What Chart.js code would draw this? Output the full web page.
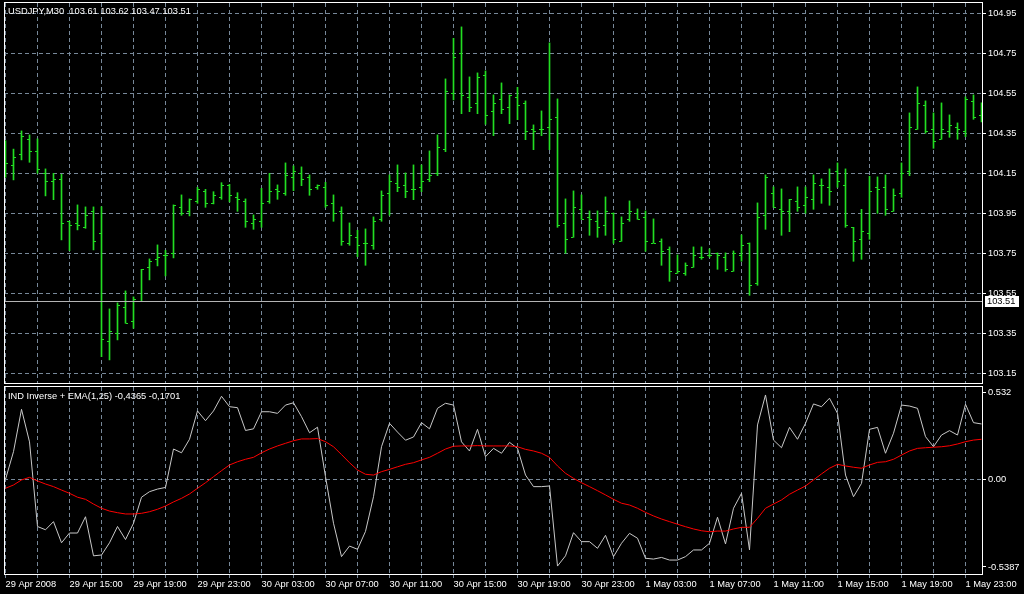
<!DOCTYPE html>
<html>
<head>
<meta charset="utf-8">
<title>USDJPY,M30</title>
<script src="https://cdn.jsdelivr.net/npm/chart.js@4/dist/chart.umd.min.js"></script>
<style>
    html, body { margin: 0; padding: 0; background: #000; }
    #wrap { position: relative; width: 1024px; height: 594px; background: #000; overflow: hidden; }
    canvas { position: absolute; left: 0; }
    #priceCanvas { top: 0; }
    #indCanvas { top: 384px; }
</style>
</head>
<body>
<div id="wrap">
    <canvas id="priceCanvas" width="1024" height="386"></canvas>
    <canvas id="indCanvas" width="1024" height="210"></canvas>
</div>
<script>
/* ================= DATA ================= */
// USDJPY M30 bars, first bar = 29 Apr 2008 11:00
const barOpen = [
    104.25, 104.19, 104.242, 104.32, 104.26, 104.15, 104.108, 104.12, 103.91, 103.9,
    103.88, 103.96, 103.85, 103.31, 103.35, 103.48, 103.41, 103.51, 103.68, 103.72,
    103.74, 103.75, 103.98, 103.96, 104.01, 104.058, 104.0, 104.03, 104.09, 104.03,
    104.01, 103.9, 103.91, 104.01, 104.07, 104.05, 104.13, 104.15, 104.13, 104.08,
    104.08, 104.0, 103.96, 103.8, 103.83, 103.8, 103.79, 103.92, 104.05, 104.1,
    104.09, 104.07, 104.08, 104.12, 104.15, 104.27, 104.55, 104.75, 104.53, 104.5,
    104.64, 104.46, 104.52, 104.48, 104.53, 104.5, 104.37, 104.37, 104.38, 104.43,
    103.9, 103.83, 103.97, 103.93, 103.91, 103.89, 103.95, 103.81, 103.92, 103.95,
    103.93, 103.8, 103.81, 103.77, 103.65, 103.65, 103.68, 103.73, 103.74, 103.75,
    103.73, 103.66, 103.74, 103.8, 103.6, 103.94, 104.05, 103.97, 103.96, 104.01,
    103.99, 104.02, 104.09, 104.08, 104.16, 104.09, 103.88, 103.82, 103.85, 104.08,
    104.08, 103.96, 104.05, 104.16, 104.37, 104.49, 104.37, 104.32, 104.36, 104.38,
    104.36, 104.51, 104.44
];
const barHigh = [
    104.313, 104.271, 104.362, 104.342, 104.322, 104.172, 104.15, 104.145, 103.91, 103.992,
    103.982, 103.982, 103.983, 103.472, 103.502, 103.562, 103.532, 103.67, 103.722, 103.792,
    103.765, 103.992, 104.042, 104.022, 104.08, 104.07, 104.058, 104.103, 104.095, 104.053,
    104.022, 103.942, 104.075, 104.15, 104.092, 104.202, 104.187, 104.182, 104.142, 104.092,
    104.105, 104.042, 103.982, 103.902, 103.865, 103.872, 103.932, 104.062, 104.142, 104.192,
    104.152, 104.192, 104.192, 104.262, 104.342, 104.622, 104.825, 104.882, 104.632, 104.652,
    104.662, 104.542, 104.602, 104.542, 104.58, 104.512, 104.392, 104.462, 104.802, 104.522,
    104.022, 104.062, 104.042, 103.962, 103.962, 104.032, 103.952, 103.932, 104.012, 103.972,
    103.962, 103.922, 103.822, 103.782, 103.742, 103.702, 103.782, 103.782, 103.772, 103.752,
    103.752, 103.762, 103.842, 103.802, 104.002, 104.142, 104.082, 104.072, 104.02, 104.082,
    104.082, 104.142, 104.122, 104.172, 104.202, 104.172, 103.88, 103.97, 104.135, 104.132,
    104.142, 104.072, 104.202, 104.452, 104.582, 104.512, 104.452, 104.502, 104.442, 104.402,
    104.532, 104.542, 104.502
];
const barLow = [
    104.13, 104.117, 104.217, 104.205, 104.15, 104.037, 104.018, 103.817, 103.763, 103.867,
    103.875, 103.767, 103.233, 103.217, 103.317, 103.4, 103.375, 103.51, 103.617, 103.687,
    103.637, 103.727, 103.94, 103.937, 104.0, 103.98, 103.997, 104.02, 104.007, 103.96,
    103.88, 103.87, 103.88, 104.0, 104.02, 104.04, 104.063, 104.088, 104.04, 104.07,
    103.98, 103.91, 103.79, 103.79, 103.733, 103.69, 103.77, 103.91, 103.94, 104.058,
    104.028, 104.018, 104.058, 104.108, 104.138, 104.258, 104.517, 104.448, 104.458, 104.448,
    104.395, 104.338, 104.448, 104.398, 104.418, 104.318, 104.268, 104.338, 104.268, 103.88,
    103.75, 103.83, 103.92, 103.84, 103.83, 103.84, 103.8, 103.81, 103.91, 103.92,
    103.76, 103.8, 103.69, 103.61, 103.65, 103.64, 103.68, 103.72, 103.73, 103.67,
    103.66, 103.66, 103.71, 103.54, 103.59, 103.87, 103.98, 103.84, 103.858, 103.96,
    103.95, 103.97, 104.0, 103.99, 104.08, 103.88, 103.71, 103.72, 103.82, 103.95,
    103.94, 103.96, 104.03, 104.138, 104.37, 104.35, 104.275, 104.32, 104.33, 104.32,
    104.333, 104.42, 104.407
];
const barClose = [
    104.2, 104.227, 104.333, 104.258, 104.167, 104.108, 104.12, 103.9, 103.89, 103.89,
    103.94, 103.81, 103.32, 103.36, 103.49, 103.4, 103.52, 103.67, 103.71, 103.73,
    103.74, 103.99, 103.95, 104.02, 104.067, 104.0, 104.04, 104.09, 104.04, 104.02,
    103.91, 103.917, 104.0, 104.06, 104.06, 104.14, 104.16, 104.12, 104.07, 104.09,
    103.99, 103.95, 103.81, 103.84, 103.79, 103.8, 103.91, 104.04, 104.11, 104.08,
    104.06, 104.07, 104.11, 104.14, 104.28, 104.56, 104.73, 104.54, 104.48, 104.63,
    104.44, 104.5, 104.47, 104.54, 104.49, 104.36, 104.36, 104.37, 104.42, 103.89,
    103.82, 103.98, 103.92, 103.92, 103.88, 103.96, 103.82, 103.9, 103.96, 103.92,
    103.81, 103.8, 103.76, 103.66, 103.66, 103.69, 103.74, 103.73, 103.74, 103.74,
    103.67, 103.75, 103.79, 103.59, 103.93, 104.13, 103.98, 103.96, 104.02, 103.98,
    104.03, 104.1, 104.09, 104.06, 104.11, 103.89, 103.81, 103.86, 104.06, 104.07,
    103.97, 104.04, 104.15, 104.38, 104.5, 104.36, 104.31, 104.37, 104.39, 104.37,
    104.52, 104.43, 104.45
];

// indicator window: IND Inverse (white) and its EMA (red)
const indInverse = [
    0.0, 0.17, 0.43, 0.23, -0.29, -0.31, -0.26, -0.39, -0.33, -0.33,
    -0.23, -0.47, -0.465, -0.39, -0.29, -0.37, -0.27, -0.11, -0.076, -0.06,
    -0.05, 0.186, 0.163, 0.246, 0.42, 0.36, 0.42, 0.51, 0.446, 0.44,
    0.30, 0.31, 0.415, 0.415, 0.405, 0.456, 0.47, 0.385, 0.286, 0.32,
    0.016, -0.27, -0.475, -0.41, -0.43, -0.32, -0.107, 0.20, 0.344, 0.29,
    0.24, 0.26, 0.348, 0.31, 0.436, 0.467, 0.456, 0.23, 0.174, 0.307,
    0.139, 0.19, 0.16, 0.227, 0.19, 0.026, -0.045, -0.045, -0.041, -0.533,
    -0.47, -0.328, -0.383, -0.383, -0.424, -0.344, -0.475, -0.393, -0.332, -0.362,
    -0.485, -0.49, -0.48, -0.496, -0.496, -0.475, -0.434, -0.434, -0.393, -0.233,
    -0.397, -0.178, -0.086, -0.434, 0.334, 0.518, 0.241, 0.194, 0.319, 0.246,
    0.344, 0.463, 0.446, 0.498, 0.405, 0.026, -0.107, -0.025, 0.307, 0.319,
    0.16, 0.283, 0.456, 0.45, 0.436, 0.262, 0.20, 0.272, 0.299, 0.272,
    0.461, 0.348, 0.34
];
const indEma = [
    -0.055, -0.035, -0.004, 0.012, -0.01, -0.029, -0.045, -0.066, -0.086, -0.11,
    -0.123, -0.152, -0.178, -0.195, -0.205, -0.213, -0.213, -0.209, -0.199, -0.184,
    -0.164, -0.139, -0.117, -0.09, -0.055, -0.021, 0.016, 0.053, 0.088, 0.108,
    0.123, 0.135, 0.163, 0.186, 0.205, 0.221, 0.237, 0.248, 0.248, 0.25,
    0.231, 0.20, 0.152, 0.102, 0.057, 0.031, 0.026, 0.047, 0.061, 0.077,
    0.092, 0.102, 0.119, 0.135, 0.16, 0.186, 0.203, 0.205, 0.205, 0.207,
    0.205, 0.205, 0.205, 0.205, 0.20, 0.184, 0.174, 0.16, 0.135, 0.082,
    0.037, 0.006, -0.021, -0.045, -0.07, -0.096, -0.123, -0.147, -0.158, -0.178,
    -0.203, -0.225, -0.244, -0.26, -0.276, -0.291, -0.305, -0.316, -0.322, -0.318,
    -0.318, -0.305, -0.295, -0.295, -0.24, -0.178, -0.152, -0.127, -0.092, -0.066,
    -0.041, -0.004, 0.033, 0.068, 0.092, 0.082, 0.074, 0.068, 0.088, 0.104,
    0.108, 0.123, 0.149, 0.174, 0.19, 0.194, 0.197, 0.20, 0.206, 0.217,
    0.231, 0.241, 0.246
];

// axes
const priceTicks = [103.15, 103.35, 103.55, 103.75, 103.95, 104.15, 104.35, 104.55, 104.75, 104.95];
const indTicks = [-0.5387, 0, 0.532];
const indTickLabels = ["-0.5387", "0.00", "0.532"];
const gridBars = [0, 4, 8, 12, 16, 20, 24, 28, 32, 36, 40, 44, 48, 52, 56, 60,
    64, 68, 72, 76, 80, 84, 88, 92, 96, 100, 104, 108, 112, 116, 120];
const timeLabels = [
    "29 Apr 2008", "29 Apr 15:00", "29 Apr 19:00", "29 Apr 23:00",
    "30 Apr 03:00", "30 Apr 07:00", "30 Apr 11:00", "30 Apr 15:00",
    "30 Apr 19:00", "30 Apr 23:00", "1 May 03:00", "1 May 07:00",
    "1 May 11:00", "1 May 15:00", "1 May 19:00", "1 May 23:00"
];
const lastPrice = 103.51;
const priceHeader = "USDJPY,M30  103.61 103.62 103.47 103.51";
const indHeader = "IND Inverse + EMA(1,25) -0,4365 -0,1701";

/* ================= STYLE ================= */
const BAR_COLOR = "#22dd22";
const GRID = "#778899";
const GRID_DASH = [4, 3];
const FONT = { family: "'Liberation Sans', Arial, sans-serif", size: 9.3 };
const FONT_CSS = "9.3px 'Liberation Sans', Arial, sans-serif";
const X_MIN = -0.1875, X_MAX = 122.0625;
const PRICE_MIN = 103.1015, PRICE_MAX = 105.0015;
const IND_MIN = -0.5817, IND_MAX = 0.567;

// keep the plot area where it is: no extra room for half labels
function fixWidth(s) {
    s.width = 42;
    s.paddingTop = 0;
    s.paddingBottom = 0;
}

/* ================= PLUGINS ================= */
const ohlcTicks = {
    id: "ohlcTicks",
    afterDatasetsDraw(chart) {
        const { ctx, chartArea: a, scales: { x, y } } = chart;
        ctx.save();
        ctx.beginPath();
        ctx.rect(a.left, a.top, a.right - a.left, a.bottom - a.top);
        ctx.clip();
        ctx.fillStyle = BAR_COLOR;
        barOpen.forEach((o, i) => {
            const px = Math.floor(x.getPixelForValue(i));
            ctx.fillRect(px - 2, Math.floor(y.getPixelForValue(o)), 2, 1);
            ctx.fillRect(px + 1, Math.floor(y.getPixelForValue(barClose[i])), 2, 1);
        });
        ctx.restore();
    }
};

function drawFrame(ctx, a) {
    ctx.strokeStyle = "#fff";
    ctx.lineWidth = 1;
    ctx.strokeRect(a.left + 0.5, a.top - 0.5, a.right - a.left, a.bottom - a.top + 1);
}

const priceFrame = {
    id: "priceFrame",
    afterDraw(chart) {
        const { ctx, chartArea: a, scales: { y } } = chart;
        ctx.save();
        // current price line
        const py = Math.floor(y.getPixelForValue(lastPrice)) + 0.5;
        ctx.strokeStyle = "#b4b4b4";
        ctx.lineWidth = 1;
        ctx.beginPath();
        ctx.moveTo(a.left, py);
        ctx.lineTo(a.right, py);
        ctx.stroke();
        drawFrame(ctx, a);
        // price box on the axis
        ctx.fillStyle = "#fff";
        ctx.fillRect(a.right + 3, py - 5.5, 34, 11);
        ctx.font = FONT_CSS;
        ctx.textBaseline = "middle";
        ctx.fillStyle = "#000";
        ctx.fillText(lastPrice.toFixed(2), a.right + 5, py);
        ctx.fillStyle = "#fff";
        ctx.fillText(priceHeader, a.left + 4, a.top + 8);
        ctx.restore();
    }
};

const indFrame = {
    id: "indFrame",
    afterDraw(chart) {
        const { ctx, chartArea: a } = chart;
        ctx.save();
        drawFrame(ctx, a);
        ctx.font = FONT_CSS;
        ctx.textBaseline = "middle";
        ctx.fillStyle = "#fff";
        ctx.fillText(indHeader, a.left + 4, a.top + 9);
        ctx.restore();
    }
};

/* ================= CHARTS ================= */
const baseOptions = {
    responsive: false,
    animation: false,
    devicePixelRatio: 1,
    plugins: { legend: { display: false }, tooltip: { enabled: false } }
};

new Chart(document.getElementById("priceCanvas"), {
    type: "bar",
    data: {
        datasets: [{
            label: "USDJPY,M30",
            data: barHigh.map((h, i) => ({ x: i, y: [barLow[i], h] })),
            backgroundColor: BAR_COLOR,
            borderWidth: 0,
            barThickness: 1,
            grouped: false
        }]
    },
    options: {
        ...baseOptions,
        layout: { padding: { top: 3, bottom: 3, left: 4, right: 0 } },
        scales: {
            x: {
                type: "linear",
                min: X_MIN,
                max: X_MAX,
                offset: false,
                afterBuildTicks: s => { s.ticks = gridBars.map(v => ({ value: v })); },
                afterFit: s => { s.height = 0; s.paddingLeft = 0; s.paddingRight = 0; },
                ticks: { display: false },
                grid: { color: GRID, drawTicks: false, offset: false },
                border: { display: false, dash: GRID_DASH }
            },
            y: {
                position: "right",
                min: PRICE_MIN,
                max: PRICE_MAX,
                afterBuildTicks: s => { s.ticks = priceTicks.map(v => ({ value: v })); },
                afterFit: fixWidth,
                ticks: { color: "#fff", font: FONT, padding: 2, callback: v => v.toFixed(2) },
                grid: { color: GRID, tickColor: "#fff", tickLength: 4, tickBorderDash: [] },
                border: { display: false, dash: GRID_DASH }
            }
        }
    },
    plugins: [ohlcTicks, priceFrame]
});

new Chart(document.getElementById("indCanvas"), {
    type: "line",
    data: {
        datasets: [
            {
                label: "IND Inverse",
                data: indInverse.map((v, i) => ({ x: i, y: v })),
                borderColor: "#c8c8c8",
                borderWidth: 1,
                pointRadius: 0,
                tension: 0,
                order: 1
            },
            {
                label: "EMA(1,25)",
                data: indEma.map((v, i) => ({ x: i, y: v })),
                borderColor: "#ff0000",
                borderWidth: 1,
                pointRadius: 0,
                tension: 0,
                order: 0
            }
        ]
    },
    options: {
        ...baseOptions,
        layout: { padding: { top: 3, bottom: 0, left: 4, right: 0 } },
        scales: {
            x: {
                type: "linear",
                min: X_MIN,
                max: X_MAX,
                afterBuildTicks: s => { s.ticks = gridBars.map(v => ({ value: v })); },
                afterFit: s => { s.height = 20; s.paddingLeft = 0; s.paddingRight = 0; },
                ticks: {
                    color: "#fff",
                    font: FONT,
                    align: "start",
                    padding: 1,
                    maxRotation: 0,
                    autoSkip: false,
                    callback: v => (v % 8 === 0 ? timeLabels[v / 8] : "")
                },
                grid: { color: GRID, tickColor: GRID, tickLength: 4 },
                border: { display: false, dash: GRID_DASH }
            },
            y: {
                position: "right",
                min: IND_MIN,
                max: IND_MAX,
                afterBuildTicks: s => { s.ticks = indTicks.map(v => ({ value: v })); },
                afterFit: fixWidth,
                ticks: { color: "#fff", font: FONT, padding: 2, callback: (v, i) => indTickLabels[i] },
                grid: {
                    color: c => (c.tick && c.tick.value === 0 ? GRID : "rgba(0,0,0,0)"),
                    tickColor: "#fff",
                    tickLength: 4,
                    tickBorderDash: []
                },
                border: { display: false, dash: GRID_DASH }
            }
        }
    },
    plugins: [indFrame]
});
</script>
</body>
</html>
